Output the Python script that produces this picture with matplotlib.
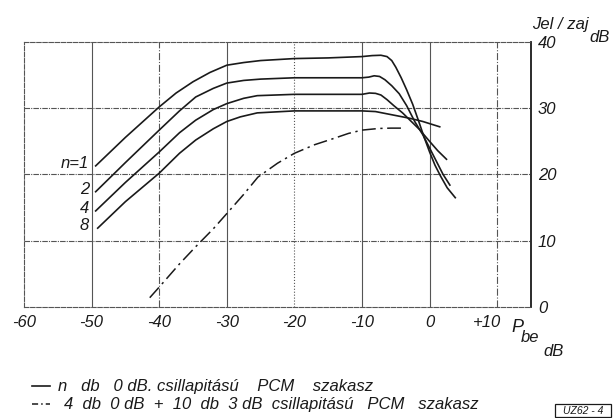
import matplotlib.pyplot as plt
from matplotlib.patches import Rectangle
from matplotlib.transforms import ScaledTranslation

# curves: input level P_be (dB) -> signal/noise (dB)
x_n1 = [-49.4, -45, -40, -37.5, -35, -32.5, -30, -27.5, -25, -20, -15, -10, -8.5, -7.2, -6.3,
        -5.6, -5.0, -4.2, -3.4, -2.5, -1.6, -0.8, 0, 0.8, 1.6, 2.6, 3.8]
y_n1 = [21.3, 25.6, 30.2, 32.3, 34.0, 35.4, 36.5, 36.9, 37.2, 37.5, 37.6, 37.8, 37.95, 38.0, 37.8,
        37.2, 36.2, 34.6, 32.8, 30.6, 28.0, 25.6, 23.4, 21.4, 19.8, 18.0, 16.5]

x_n2 = [-49.4, -45, -40, -37, -34.6, -32, -30, -27.5, -25, -20, -15, -10, -9, -8.2, -7.4, -6.6,
        -5.6, -4.5, -3.4, -2.2, -1, 0, 1.0, 2.0, 3.0]
y_n2 = [17.4, 21.8, 26.7, 29.6, 31.7, 33.0, 33.8, 34.2, 34.4, 34.6, 34.6, 34.6, 34.7, 34.9, 34.8, 34.3,
        33.4, 32.2, 30.4, 28.0, 26.0, 24.0, 22.0, 20.0, 18.4]

x_n4 = [-49.4, -45, -40, -37, -34.6, -32, -30, -27.5, -25.5, -20, -15, -10, -8.9, -8, -7.2, -6.3,
        -5.3, -4, -2.8, -1.5, 0, 1.2, 2.5]
y_n4 = [14.5, 18.8, 23.4, 26.3, 28.2, 29.8, 30.7, 31.5, 31.9, 32.1, 32.1, 32.1, 32.3, 32.25, 32.0, 31.3,
        30.4, 29.3, 28.1, 26.8, 25.0, 23.6, 22.3]

x_n8 = [-49.1, -45, -40, -37, -34.6, -32, -30, -28, -25.5, -20, -15, -10, -8, -6.5, -5, -3, -1, 1.5]
y_n8 = [11.9, 15.9, 20.2, 23.2, 25.2, 26.9, 28.0, 28.7, 29.3, 29.6, 29.6, 29.6, 29.5, 29.2, 28.9, 28.5, 28.0, 27.2]

x_mix = [-41.4, -40, -37, -34.6, -32, -30, -27.5, -25.4, -22.5, -20, -17, -14.3, -12, -10, -7.5, -5.7, -3.6]
y_mix = [1.4, 3.0, 6.5, 9.1, 11.8, 14.1, 17.0, 19.6, 21.7, 23.2, 24.5, 25.4, 26.2, 26.7, 26.95, 27.0, 27.0]

n_labels = ["n=1", "2", "4", "8"]
x_ticks = [-60, -50, -40, -30, -20, -10, 0, 10]
x_ticklabels = ["-60", "-50", "-40", "-30", "-20", "-10", "0", "+10"]
y_ticks = [0, 10, 20, 30, 40]

fig = plt.figure(figsize=(6.14, 4.18), dpi=100)
ax = fig.add_axes([0.0391, 0.2656, 0.8257, 0.6339])
ax.set_xlim(-60, 15)
ax.set_ylim(0, 40)

ink = '#1a1a1a'
grid_c = '#555555'
font = dict(family='Liberation Sans', style='italic', color=ink)

# grid: mixed line styles as in the drawing
v_styles = ['-', '-.', '-', ':', '-', '-', '-.']
for xv, ls in zip(x_ticks[1:], v_styles):
    ax.axvline(xv, color=grid_c, lw=0.8, ls=ls, zorder=1)
for yv in y_ticks[1:-1]:
    ax.axhline(yv, color=grid_c, lw=0.8, ls=(0, (5, 1, 1, 1)), zorder=1)

for s in ['left', 'top', 'bottom']:
    ax.spines[s].set_linestyle((0, (4, 1.5)))
    ax.spines[s].set_linewidth(0.8)
    ax.spines[s].set_color(grid_c)
ax.spines['right'].set_linewidth(1.3)
ax.spines['right'].set_color(ink)

for xs, ys in [(x_n1, y_n1), (x_n2, y_n2), (x_n4, y_n4), (x_n8, y_n8)]:
    ax.plot(xs, ys, color=ink, lw=1.2, zorder=3, solid_joinstyle='round')
ax.plot(x_mix, y_mix, color=ink, lw=1.1, ls=(0, (9, 3, 1.5, 3)), zorder=3)

# n labels at the start of each curve
for lab, ys in zip(n_labels, [y_n1, y_n2, y_n4, y_n8]):
    ax.text(-50.4, ys[0] + 0.4, lab, ha='right', va='center', fontsize=12, **font)

ax.set_xticks(x_ticks)
ax.set_xticklabels(x_ticklabels, fontsize=12, **font)
ax.set_yticks(y_ticks)
ax.set_yticklabels([str(v) for v in y_ticks], fontsize=12, **font)
ax.yaxis.tick_right()
ax.tick_params(axis='both', length=0)
ax.tick_params(axis='x', pad=6)
ax.tick_params(axis='y', pad=5)
# "+10" sits a little left of its grid line in the drawing
lab10 = ax.get_xticklabels()[-1]
lab10.set_transform(lab10.get_transform() + ScaledTranslation(-7 / 72, 0, fig.dpi_scale_trans))

# axis titles
fig.text(532 / 614, 1 - 24 / 418, "Jel / zaj", fontsize=12, ha='left', va='center', **font)
fig.text(589 / 614, 1 - 37 / 418, "dB", fontsize=12, ha='left', va='center', **font)
fig.text(511 / 614, 1 - 328 / 418, "P", fontsize=13, ha='left', va='center', **font)
fig.text(521 / 614, 1 - 337 / 418, "be", fontsize=12, ha='left', va='center', **font)
fig.text(543 / 614, 1 - 351 / 418, "dB", fontsize=12, ha='left', va='center', **font)

# key below the chart
key_x = [32 / 614, 50 / 614]
fig.add_artist(plt.Line2D(key_x, [1 - 386 / 418] * 2, color=ink, lw=1.2))
fig.add_artist(plt.Line2D(key_x, [1 - 404 / 418] * 2, color=ink, lw=1.1, ls=(0, (4, 2, 1, 2))))
fig.text(58 / 614, 1 - 386 / 418, "n   db   0 dB. csillapitású    PCM    szakasz",
         fontsize=12, ha='left', va='center', **font)
fig.text(64 / 614, 1 - 404 / 418, "4  db  0 dB  +  10  db  3 dB  csillapitású   PCM   szakasz",
         fontsize=12, ha='left', va='center', **font)

# drawing number stamp in the bottom right corner
fig.add_artist(Rectangle((555 / 614, 1 / 418), 56 / 614, 13 / 418, transform=fig.transFigure,
                         fill=False, edgecolor=ink, lw=0.9))
fig.text(583 / 614, 7.5 / 418, "UZ62 - 4", fontsize=7.5, ha='center', va='center', **font)

fig.savefig('out.png', dpi=100, facecolor='white')
